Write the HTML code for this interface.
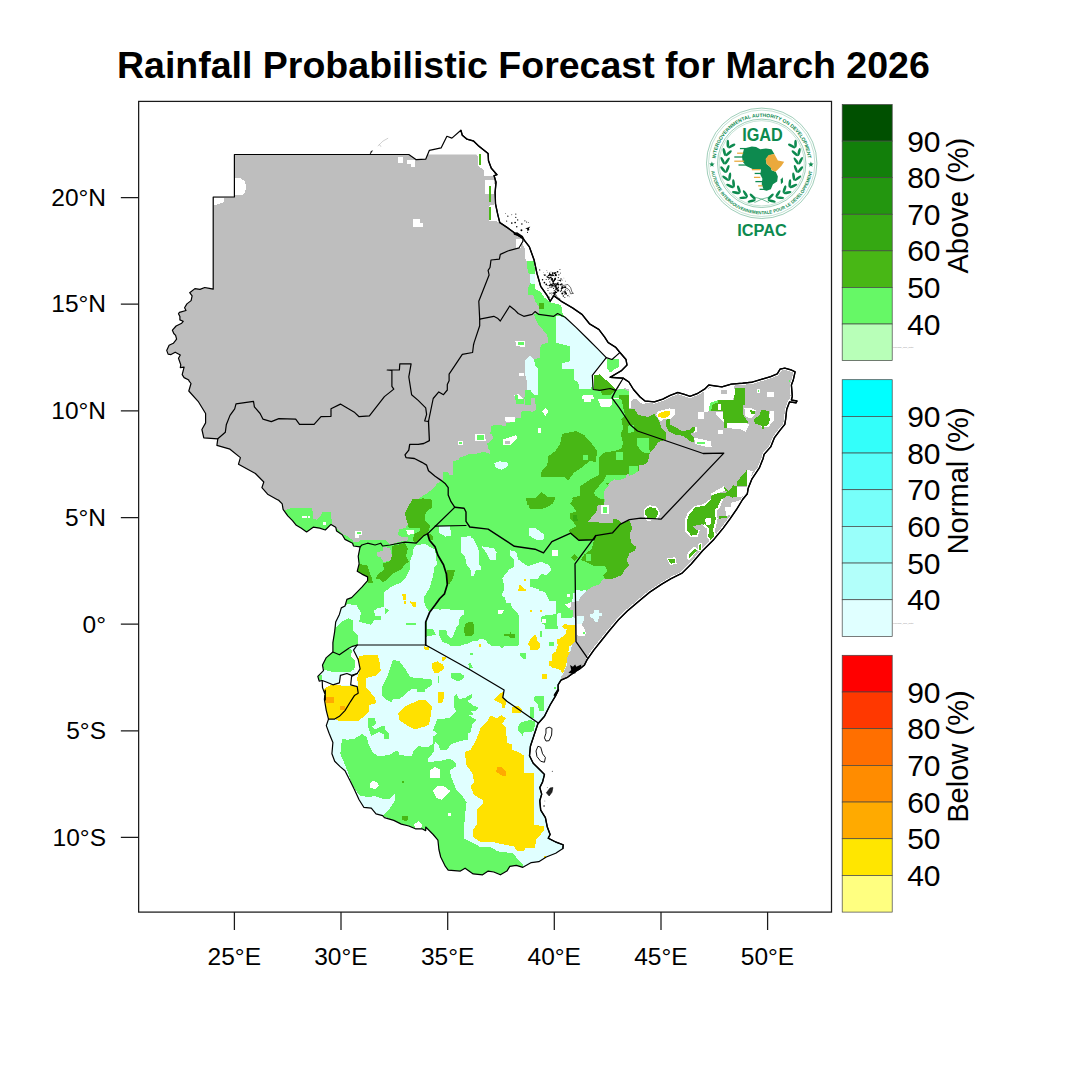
<!DOCTYPE html>
<html><head><meta charset="utf-8">
<style>
html,body{margin:0;padding:0;background:#fff;}
body{width:1066px;height:1067px;overflow:hidden;}
svg{display:block;}
text{font-family:"Liberation Sans",sans-serif;fill:#000;}
</style></head><body>
<svg id="root" width="1066" height="1067" viewBox="0 0 1066 1067">
<rect width="1066" height="1067" fill="#fff"/>
<text id="title" x="117" y="78.3" font-size="37.5" font-weight="bold">Rainfall Probabilistic Forecast for March 2026</text>
<!--MAP-->
<g id="map">
<defs><clipPath id="land"><polygon points="234.4,154.5 234.4,197.0 213.2,197.0 213.2,289.2 209.4,288.3 204.7,287.5 200.0,289.4 194.9,288.6 189.7,292.7 192.1,295.9 191.1,300.6 186.9,303.9 184.6,307.7 186.0,310.5 179.4,312.4 178.5,313.8 179.9,316.6 179.9,319.9 183.2,321.3 181.7,323.2 176.1,326.0 172.4,330.2 173.8,333.5 175.6,335.3 176.6,339.1 173.3,343.3 169.1,345.2 166.7,350.4 168.1,354.1 171.0,354.6 175.2,352.2 180.3,355.0 178.5,358.3 180.8,364.9 180.3,367.7 184.1,367.2 182.2,374.7 184.1,377.6 188.8,380.0 188.8,380.7 191.0,383.5 188.8,391.0 198.1,401.3 205.6,413.5 205.6,422.9 201.9,429.5 203.8,437.9 217.8,438.8 216.9,445.4 230.0,449.2 240.4,457.6 238.5,464.2 255.4,473.5 263.8,482.0 261.9,487.6 267.6,494.2 277.9,500.0 278.4,500.0 282.2,503.8 283.1,509.4 287.8,515.9 292.5,520.6 296.3,525.3 301.0,528.1 306.6,531.9 313.2,527.2 319.7,528.1 325.3,530.0 331.0,524.4 335.7,527.2 336.6,531.0 342.2,534.7 345.0,539.4 352.6,543.2 353.5,546.0 360.1,546.9 358.2,556.3 359.1,563.8 357.2,571.3 361.9,574.1 367.6,576.9 367.6,580.7 361.9,587.2 356.3,592.9 351.6,597.6 346.9,599.4 345.0,606.0 341.3,607.9 339.4,614.4 335.7,622.0 334.7,631.3 332.9,642.6 332.9,652.0 326.3,657.6 322.5,665.1 323.5,670.7 317.8,676.4 319.2,681.1 322.2,680.5 322.5,687.6 325.3,695.1 325.3,700.0 325.3,690.0 324.4,699.4 326.3,710.6 328.5,719.1 326.3,725.6 329.1,733.2 332.9,742.5 331.9,753.8 334.7,761.3 340.4,766.9 345.0,770.7 349.7,780.1 354.4,789.4 359.1,799.8 363.8,807.3 371.3,808.2 376.0,813.8 382.6,815.7 384.4,817.6 393.8,820.4 401.3,824.1 408.8,826.0 415.4,828.8 422.0,828.8 425.7,830.7 425.7,827.0 433.2,834.5 437.9,840.1 438.9,849.5 440.7,857.0 445.4,866.4 448.2,870.1 460.4,871.1 465.1,868.2 473.2,873.9 482.6,874.8 488.2,871.1 493.8,872.0 500.4,874.8 506.9,871.1 509.8,866.4 516.3,865.4 522.9,867.3 531.3,862.6 538.8,861.7 546.3,857.0 555.7,853.2 562.9,848.5 563.2,844.8 555.7,842.0 548.2,838.2 550.1,834.5 547.3,827.0 545.4,817.6 540.7,810.1 539.8,800.7 541.7,794.1 539.8,787.6 542.6,781.9 544.5,774.4 538.8,768.8 533.2,763.2 529.5,755.7 530.4,746.3 534.1,735.0 537.9,723.8 544.5,716.3 550.1,705.0 555.7,695.6 558.5,690.0 554.4,695.1 558.1,689.5 558.1,684.8 561.0,680.1 567.5,677.3 575.0,671.7 579.7,668.9 584.4,665.1 587.2,659.5 593.8,650.1 601.3,640.7 608.8,631.3 618.2,620.1 627.6,610.7 638.8,601.3 650.1,591.9 661.3,584.4 670.7,578.8 682.0,573.2 691.4,563.8 702.6,550.7 713.9,539.4 723.2,528.1 730.0,518.8 736.9,508.9 742.6,499.5 747.3,493.8 748.2,488.2 752.0,478.8 759.5,467.6 763.2,458.2 764.1,454.4 770.7,446.9 774.5,437.6 780.1,430.1 784.8,424.4 785.7,418.8 786.7,409.4 789.5,401.9 796.0,402.9 797.0,401.0 791.4,400.0 792.3,396.3 791.4,385.0 793.2,380.3 795.1,371.9 791.4,370.0 784.8,368.1 780.1,369.1 777.3,373.8 770.7,376.6 761.3,379.4 752.0,382.2 742.6,383.2 731.3,384.1 721.9,386.9 715.4,386.0 708.8,385.0 705.0,388.8 697.5,393.5 690.0,396.3 684.4,394.4 677.8,392.5 670.3,395.3 662.8,399.1 654.4,401.9 645.0,401.0 640.1,397.0 633.5,389.5 628.9,382.0 623.2,378.2 610.1,377.3 621.4,370.7 627.0,365.1 626.0,359.5 619.5,352.0 615.7,347.3 608.2,342.6 604.5,336.9 598.8,329.4 589.5,323.8 582.0,314.4 572.6,307.9 561.3,301.3 553.8,295.7 550.1,301.3 547.2,295.7 540.7,286.3 536.9,273.2 534.1,260.0 529.4,246.9 522.9,238.4 515.7,233.8 508.2,228.2 499.8,222.6 497.9,215.1 495.5,203.8 495.1,192.6 496.0,182.2 494.1,175.7 497.0,174.7 491.3,168.2 488.5,160.7 488.1,153.5 478.2,145.6 473.5,141.0 466.9,139.1 462.3,135.3 460.9,130.3 451.9,138.1 446.9,136.3 441.1,147.9 429.4,150.3 425.7,159.2 416.3,159.7 408.8,154.5 360.0,154.5"/></clipPath></defs>
<polygon points="234.4,154.5 234.4,197.0 213.2,197.0 213.2,289.2 209.4,288.3 204.7,287.5 200.0,289.4 194.9,288.6 189.7,292.7 192.1,295.9 191.1,300.6 186.9,303.9 184.6,307.7 186.0,310.5 179.4,312.4 178.5,313.8 179.9,316.6 179.9,319.9 183.2,321.3 181.7,323.2 176.1,326.0 172.4,330.2 173.8,333.5 175.6,335.3 176.6,339.1 173.3,343.3 169.1,345.2 166.7,350.4 168.1,354.1 171.0,354.6 175.2,352.2 180.3,355.0 178.5,358.3 180.8,364.9 180.3,367.7 184.1,367.2 182.2,374.7 184.1,377.6 188.8,380.0 188.8,380.7 191.0,383.5 188.8,391.0 198.1,401.3 205.6,413.5 205.6,422.9 201.9,429.5 203.8,437.9 217.8,438.8 216.9,445.4 230.0,449.2 240.4,457.6 238.5,464.2 255.4,473.5 263.8,482.0 261.9,487.6 267.6,494.2 277.9,500.0 278.4,500.0 282.2,503.8 283.1,509.4 287.8,515.9 292.5,520.6 296.3,525.3 301.0,528.1 306.6,531.9 313.2,527.2 319.7,528.1 325.3,530.0 331.0,524.4 335.7,527.2 336.6,531.0 342.2,534.7 345.0,539.4 352.6,543.2 353.5,546.0 360.1,546.9 358.2,556.3 359.1,563.8 357.2,571.3 361.9,574.1 367.6,576.9 367.6,580.7 361.9,587.2 356.3,592.9 351.6,597.6 346.9,599.4 345.0,606.0 341.3,607.9 339.4,614.4 335.7,622.0 334.7,631.3 332.9,642.6 332.9,652.0 326.3,657.6 322.5,665.1 323.5,670.7 317.8,676.4 319.2,681.1 322.2,680.5 322.5,687.6 325.3,695.1 325.3,700.0 325.3,690.0 324.4,699.4 326.3,710.6 328.5,719.1 326.3,725.6 329.1,733.2 332.9,742.5 331.9,753.8 334.7,761.3 340.4,766.9 345.0,770.7 349.7,780.1 354.4,789.4 359.1,799.8 363.8,807.3 371.3,808.2 376.0,813.8 382.6,815.7 384.4,817.6 393.8,820.4 401.3,824.1 408.8,826.0 415.4,828.8 422.0,828.8 425.7,830.7 425.7,827.0 433.2,834.5 437.9,840.1 438.9,849.5 440.7,857.0 445.4,866.4 448.2,870.1 460.4,871.1 465.1,868.2 473.2,873.9 482.6,874.8 488.2,871.1 493.8,872.0 500.4,874.8 506.9,871.1 509.8,866.4 516.3,865.4 522.9,867.3 531.3,862.6 538.8,861.7 546.3,857.0 555.7,853.2 562.9,848.5 563.2,844.8 555.7,842.0 548.2,838.2 550.1,834.5 547.3,827.0 545.4,817.6 540.7,810.1 539.8,800.7 541.7,794.1 539.8,787.6 542.6,781.9 544.5,774.4 538.8,768.8 533.2,763.2 529.5,755.7 530.4,746.3 534.1,735.0 537.9,723.8 544.5,716.3 550.1,705.0 555.7,695.6 558.5,690.0 554.4,695.1 558.1,689.5 558.1,684.8 561.0,680.1 567.5,677.3 575.0,671.7 579.7,668.9 584.4,665.1 587.2,659.5 593.8,650.1 601.3,640.7 608.8,631.3 618.2,620.1 627.6,610.7 638.8,601.3 650.1,591.9 661.3,584.4 670.7,578.8 682.0,573.2 691.4,563.8 702.6,550.7 713.9,539.4 723.2,528.1 730.0,518.8 736.9,508.9 742.6,499.5 747.3,493.8 748.2,488.2 752.0,478.8 759.5,467.6 763.2,458.2 764.1,454.4 770.7,446.9 774.5,437.6 780.1,430.1 784.8,424.4 785.7,418.8 786.7,409.4 789.5,401.9 796.0,402.9 797.0,401.0 791.4,400.0 792.3,396.3 791.4,385.0 793.2,380.3 795.1,371.9 791.4,370.0 784.8,368.1 780.1,369.1 777.3,373.8 770.7,376.6 761.3,379.4 752.0,382.2 742.6,383.2 731.3,384.1 721.9,386.9 715.4,386.0 708.8,385.0 705.0,388.8 697.5,393.5 690.0,396.3 684.4,394.4 677.8,392.5 670.3,395.3 662.8,399.1 654.4,401.9 645.0,401.0 640.1,397.0 633.5,389.5 628.9,382.0 623.2,378.2 610.1,377.3 621.4,370.7 627.0,365.1 626.0,359.5 619.5,352.0 615.7,347.3 608.2,342.6 604.5,336.9 598.8,329.4 589.5,323.8 582.0,314.4 572.6,307.9 561.3,301.3 553.8,295.7 550.1,301.3 547.2,295.7 540.7,286.3 536.9,273.2 534.1,260.0 529.4,246.9 522.9,238.4 515.7,233.8 508.2,228.2 499.8,222.6 497.9,215.1 495.5,203.8 495.1,192.6 496.0,182.2 494.1,175.7 497.0,174.7 491.3,168.2 488.5,160.7 476.0,154.5 427.5,154.5 425.7,159.2 416.3,159.7 408.8,154.5" fill="#bebebe"/>
<g clip-path="url(#land)" shape-rendering="crispEdges">
<g transform="translate(460 230) scale(0.187617)">
<polygon fill="#66f866" points="355,165 355,190 365,230 375,235 372,290 360,315 360,345 390,345 400,380 420,410 420,440 395,450 400,470 415,500 440,530 465,560 470,600 430,612 425,680 400,690 350,690 345,720 375,730 375,770 355,790 355,860 340,900 350,930 395,930 400,975 330,975 325,1000 280,1010 240,1040 180,1040 165,1076 1076,1076 1076,985 1010,990 950,995 930,960 915,900 900,860 870,845 830,855 800,845 745,855 710,850 705,775 780,680 730,630 680,580 620,520 560,465 545,440 540,400 480,385 450,360 430,330 400,315 400,235 395,165"/>
<polygon fill="#e0ffff" points="510,455 560,465 620,520 680,580 730,630 780,680 705,775 700,850 635,850 630,810 610,800 610,740 545,740 545,710 585,700 585,620 510,600"/>
<polygon fill="#e0ffff" points="375,670 395,690 400,720 415,735 415,880 395,880 380,860 355,860 355,790 375,770 375,730 345,720 350,690"/>
<polygon fill="#e0ffff" points="375,235 400,235 400,290 375,285"/>
<polygon fill="#ffffff" points="325,55 340,45 370,90 395,160 410,230 430,300 465,350 500,350 540,380 600,415 650,450 690,500 740,530 770,570 790,600 830,625 850,650 810,690 780,680 730,630 680,580 620,520 560,465 545,440 540,400 480,385 450,360 430,330 400,315 400,235 395,165 350,165 345,100"/>
<polygon fill="#ffffff" points="780,680 810,690 850,655 885,690 890,720 860,750 800,785 870,790 830,855 800,845 745,855 710,850 705,775"/>
<polygon fill="#66f866" points="785,690 845,690 845,730 820,745 800,760 785,740"/>
<polygon fill="#48b715" points="715,775 745,770 790,810 830,850 800,880 760,880 750,860 715,850"/>
<polygon fill="#48b715" points="850,880 905,880 910,950 930,985 1010,1000 1076,990 1076,1076 940,1076 870,1050 860,1000 885,960 850,910"/>
<polygon fill="#48b715" points="420,390 450,390 450,420 420,420"/>
<polygon fill="#ffffff" points="440,965 458,945 475,965 458,990"/>
<polygon fill="#ffffff" points="655,880 710,880 715,905 660,915 650,895"/>
<polygon fill="#ffffff" points="730,905 800,900 810,940 750,940"/>
<polygon fill="#ffffff" points="240,1000 290,995 290,1010 260,1040 240,1040"/>
<polygon fill="#ffffff" points="295,590 345,590 345,620 300,620"/>
<polygon fill="#66f866" points="310,598 340,598 340,612 310,612"/>
<polygon fill="#ffffff" points="290,880 310,875 335,895 335,925 300,925"/>
<polygon fill="#66f866" points="305,900 330,900 330,920 305,920"/>
<polygon fill="#66f866" points="320,762 340,762 340,775 320,775"/>
<polygon fill="#ffffff" points="870,793 900,814 922,850 952,886 994,916 976,928 934,898 913,910 913,946 904,946 904,850 880,844 840,850"/>
<polygon fill="#ffffff" points="817,898 847,898 862,922 862,970 844,952 820,922"/>
</g>
<g transform="translate(460 400) scale(0.187617)">
<polygon fill="#66f866" points="-5,-5 1071,-5 1071,1071 -5,1071"/>
<polygon fill="#bebebe" points="-12,-12 300,-12 300,20 340,22 345,-12 400,-12 405,55 385,62 330,65 330,95 285,100 285,120 245,125 240,150 170,150 160,180 185,185 180,215 145,230 150,260 165,275 150,300 130,285 45,290 -12,312"/>
<polygon fill="#ffffff" points="240,90 285,90 285,110 240,112"/>
<polygon fill="#ffffff" points="310,150 330,150 330,165 310,165"/>
<polygon fill="#ffffff" points="350,150 370,150 370,165 350,165"/>
<polygon fill="#ffffff" points="415,150 430,150 430,175 415,175"/>
<polygon fill="#ffffff" points="455,42 472,62 455,85 438,62"/>
<polygon fill="#ffffff" points="230,215 265,215 265,245 230,245"/>
<polygon fill="#bebebe" points="240,222 258,222 258,240 240,240"/>
<polygon fill="#ffffff" points="272,195 290,185 302,200 285,215"/>
<polygon fill="#ffffff" points="200,258 215,258 215,280 200,280"/>
<polygon fill="#ffffff" points="85,190 110,180 135,192 135,215 85,215"/>
<polygon fill="#66f866" points="95,193 128,193 128,213 95,213"/>
<polygon fill="#ffffff" points="307,154 327,154 327,163 307,163"/>
<polygon fill="#ffffff" points="352,154 373,154 373,163 352,163"/>
<polygon fill="#ffffff" points="201,259 211,259 211,279 201,279"/>
<polygon fill="#bebebe" points="910,-5 915,40 940,75 1000,90 1071,60 1071,-5"/>
<polygon fill="#ffffff" points="980,-5 1071,-5 1071,10 1000,12"/>
<polygon fill="#ffffff" points="735,-5 810,-5 810,25 790,40 750,35"/>
<polygon fill="#ffffff" points="660,-5 700,-5 700,10 660,10"/>
<polygon fill="#ffffff" points="930,40 950,40 950,75 935,70"/>
<polygon fill="#bebebe" points="1071,228 1010,250 1000,300 990,330 950,350 940,380 880,400 820,420 790,450 770,470 765,540 770,560 740,565 740,590 700,610 680,650 800,660 830,640 850,670 890,645 960,632 1071,632"/>
<polygon fill="#ffffff" points="725,565 745,565 745,592 725,592"/>
<polygon fill="#ffffff" points="755,565 790,565 790,605 755,605"/>
<polygon fill="#66f866" points="765,575 785,575 785,595 765,595"/>
<polygon fill="#bebebe" points="915,665 905,700 915,760 935,790 900,820 890,880 860,940 820,950 780,960 750,985 680,1020 655,1071 1071,1071 1071,640 960,640"/>
<polygon fill="#ffffff" points="960,1071 1071,975 1071,1071"/>
<polygon fill="#48b715" points="860,-5 905,-5 915,40 940,75 1000,90 1071,62 1071,230 1010,250 1000,300 990,330 950,350 940,380 880,400 820,420 790,450 770,470 765,540 740,560 700,600 680,650 800,660 830,640 850,670 830,700 740,720 710,745 630,745 590,710 580,690 620,670 625,640 640,620 590,560 600,520 640,510 640,460 700,420 740,400 740,310 770,280 830,270 860,260 870,230 855,180 870,150 860,100 880,80 870,40"/>
<polygon fill="#66f866" points="939,207 966,201 1002,207 1008,228 990,246 996,264 1008,276 957,279 954,228"/>
<polygon fill="#66f866" points="906,348 954,345 954,384 924,390 900,390 900,384"/>
<polygon fill="#66f866" points="780,399 888,399 882,414 852,427 822,423 800,440 775,440 765,430"/>
<polygon fill="#66f866" points="762,432 792,456 771,480 765,540 762,534 720,510 714,492"/>
<polygon fill="#66f866" points="830,275 870,275 870,320 830,320"/>
<polygon fill="#66f866" points="895,140 925,140 925,175 895,175"/>
<polygon fill="#66f866" points="590,620 605,605 625,625 608,645"/>
<polygon fill="#48b715" points="545,180 620,165 660,185 700,230 730,270 725,330 690,325 650,360 610,385 575,430 555,410 430,410 435,380 465,350 470,300 510,270 535,230"/>
<polygon fill="#66f866" points="655,295 680,295 680,320 655,320"/>
<polygon fill="#48b715" points="435,490 465,515 505,515 510,540 495,560 470,565 460,600 440,585 385,585 355,530 405,520"/>
<polygon fill="#48b715" points="710,745 740,720 830,700 850,670 890,650 915,665 905,700 915,760 935,790 900,820 890,880 860,940 820,950 780,940 780,890 740,885 690,890 670,860 700,830 665,800 670,750"/>
<polygon fill="#66f866" points="672,822 698,822 698,858 672,858"/>
<polygon fill="#48b715" points="590,840 605,825 620,840 605,858"/>
<polygon fill="#ffffff" points="975,590 1000,565 1035,565 1060,590 1060,625 1035,640 990,638 975,615"/>
<polygon fill="#48b715" points="990,582 1020,572 1050,592 1050,620 1030,632 995,630 985,602"/>
<polygon fill="#e0ffff" points="185,330 240,325 255,350 240,365 210,375 190,350"/>
<polygon fill="#e0ffff" points="355,685 395,675 410,700 445,715 445,745 415,745 380,715"/>
<polygon fill="#e0ffff" points="10,760 40,730 70,735 100,800 100,880 115,885 110,905 80,910 75,940 60,940 55,900 25,860 10,800"/>
<polygon fill="#e0ffff" points="115,780 180,790 195,810 190,855 160,850 140,815"/>
<polygon fill="#e0ffff" points="265,800 300,810 310,850 350,880 415,895 430,865 480,880 470,930 420,950 380,970 385,1000 460,1010 460,1071 230,1071 235,990 225,950 265,900 290,890 290,850 265,830"/>
<polygon fill="#e0ffff" points="620,1010 660,1020 640,1060 620,1071"/>
<polygon fill="#ffffff" points="490,805 520,805 520,835 490,835"/>
<polygon fill="#ffe100" points="305,1018 325,985 345,1018"/>
<polygon fill="#ffe100" points="340,953 350,953 350,963 340,963"/>
</g>
<g transform="translate(330 330) scale(0.187617)">
<polygon fill="#66f866" points="1071,430 1020,435 1020,470 990,475 985,490 940,495 940,515 900,505 860,510 860,545 870,575 850,600 840,620 855,640 850,660 820,650 750,665 695,690 655,700 655,770 635,775 630,755 600,760 600,800 570,820 545,850 516,871 465,903 411,936 392,968 405,1010 400,1071 1071,1071"/>
<polygon fill="#66f866" points="1040,320 1071,320 1071,400 1040,400"/>
<polygon fill="#66f866" points="985,345 1000,345 1000,375 985,375"/>
<polygon fill="#66f866" points="1000,370 1025,370 1025,395 1000,395"/>
<polygon fill="#e0ffff" points="1040,165 1071,140 1071,320 1045,260 1040,230"/>
<polygon fill="#ffffff" points="995,58 1040,58 1040,90 1000,87"/>
<polygon fill="#66f866" points="1002,66 1034,66 1034,80 1002,80"/>
<polygon fill="#ffffff" points="1005,230 1035,230 1035,245 1005,245"/>
<polygon fill="#ffffff" points="935,465 985,465 985,490 940,490"/>
<polygon fill="#ffffff" points="920,585 990,560 1000,575 960,615 925,615"/>
<polygon fill="#bebebe" points="935,592 958,592 958,610 935,610"/>
<polygon fill="#ffffff" points="775,555 825,555 830,590 775,590"/>
<polygon fill="#66f866" points="785,562 820,562 823,585 782,585"/>
<polygon fill="#ffffff" points="683,590 707,590 707,614 683,614"/>
<polygon fill="#66f866" points="688,595 702,595 702,609 688,609"/>
<polygon fill="#e0ffff" points="875,710 905,700 945,705 950,725 915,745 885,735"/>
<polygon fill="#48b715" points="395,975 411,940 465,905 496,896 539,911 541,966 501,976 501,1016 531,1041 531,1076 400,1076 405,1010"/>
<polygon fill="#48b715" points="1045,895 1071,895 1071,940 1050,930"/>
<polygon fill="#66f866" points="-5,960 10,960 10,1035 -5,1035"/>
<polygon fill="#ffffff" points="-5,1035 40,1045 40,1071 -5,1071"/>
<polygon fill="#e0ffff" points="575,1050 640,1050 640,1071 575,1071"/>
</g>
<g transform="translate(630 340) scale(0.187617)">
<polygon fill="#bebebe" points="-5,-5 1071,-5 1071,1071 -5,1071"/>
<polygon fill="#ffffff" points="-5,235 30,285 80,325 90,332 70,344 28,312 6,324 6,360 -5,360"/>
<polygon fill="#ffffff" points="395,270 440,250 555,238 560,300 545,320 430,330 420,380 395,385 395,330"/>
<polygon fill="#bebebe" points="485,265 515,265 515,290 485,290"/>
<polygon fill="#ffffff" points="515,440 615,440 635,450 615,490 590,475 515,470"/>
<polygon fill="#ffffff" points="460,385 500,385 500,440 480,420 460,400"/>
<polygon fill="#ffffff" points="360,385 395,385 395,420 360,420"/>
<polygon fill="#ffffff" points="470,480 495,480 495,503 470,503"/>
<polygon fill="#ffffff" points="745,380 765,380 765,430 745,455 740,465 700,465 700,440 740,430"/>
<polygon fill="#ffffff" points="730,275 765,275 765,305 730,305"/>
<polygon fill="#ffffff" points="675,262 695,262 695,285 675,285"/>
<polygon fill="#66f866" points="681,268 690,268 690,278 681,278"/>
<polygon fill="#ffffff" points="140,395 150,380 210,365 240,370 240,395 215,420 180,420 165,435 150,420"/>
<polygon fill="#ffffff" points="345,460 360,470 355,490 340,495"/>
<polygon fill="#ffffff" points="340,520 430,540 435,570 400,568 350,555"/>
<polygon fill="#66f866" points="355,545 400,545 400,553 355,553"/>
<polygon fill="#ffffff" points="610,365 640,360 670,375 665,400 640,420 615,405"/>
<polygon fill="#48b715" points="560,258 615,258 615,345 600,345 605,400 625,430 635,445 620,445 615,440 515,440 515,470 500,470 500,440 495,380 420,380 425,340 470,320 555,320"/>
<polygon fill="#66f866" points="425,335 470,320 470,332 440,345 432,375 422,378"/>
<polygon fill="#ffffff" points="468,340 485,340 485,372 468,372"/>
<polygon fill="#48b715" points="705,372 740,378 745,430 735,455 715,460 710,485 700,455 665,445 660,425 690,400 700,372"/>
<polygon fill="#48b715" points="640,372 665,380 668,395 645,395"/>
<polygon fill="#48b715" points="190,425 215,420 215,450 245,465 275,485 320,480 335,460 345,465 345,485 325,500 340,520 340,545 320,540 295,520 280,510 240,505 205,485 190,455"/>
<polygon fill="#ffe100" points="150,395 165,385 210,375 215,395 200,410 185,415 150,412"/>
<polygon fill="#48b715" points="-5,365 25,370 45,400 95,410 130,395 150,420 160,440 165,465 190,490 195,530 150,545 130,575 105,600 95,650 75,665 50,665 45,700 20,715 -5,725"/>
<polygon fill="#66f866" points="35,520 100,520 105,600 75,600 60,590 35,560"/>
<polygon fill="#66f866" points="-5,670 45,670 45,700 20,715 -5,725"/>
<polygon fill="#66f866" points="-5,450 20,455 20,490 -5,495"/>
<polygon fill="#ffffff" points="72,900 90,885 120,882 150,900 158,930 155,960 72,960"/>
<polygon fill="#48b715" points="85,900 110,890 135,900 150,920 150,950 85,950 80,920"/>
<polygon fill="#48b715" points="-5,985 12,985 12,1010 -5,1010"/>
<polygon fill="#ffffff" points="625,690 655,700 640,740 625,780"/>
<polygon fill="#ffffff" points="570,785 625,785 615,830 570,840"/>
<polygon fill="#ffffff" points="430,820 500,780 520,800 470,815 435,830"/>
<polygon fill="#ffffff" points="450,890 500,880 600,850 570,900 530,950 510,990 470,1040 445,1071 430,1071 455,985 440,960 445,930"/>
<polygon fill="#bebebe" points="455,892 515,885 500,930 460,935"/>
<polygon fill="#ffffff" points="290,985 300,960 315,925 355,885 420,875 435,830 440,850 420,885 360,895 320,935 305,990 305,1020 320,1050 290,1030"/>
<polygon fill="#48b715" points="625,690 625,780 570,780 570,755 600,720"/>
<polygon fill="#48b715" points="570,780 570,835 545,840 520,830 490,850 475,870 445,880 440,920 420,945 390,950 390,1005 345,1000 335,1005 355,1020 345,1045 315,1045 300,1020 300,990 315,930 355,890 420,880 435,830 470,815 510,815 540,790 550,775"/>
<polygon fill="#48b715" points="420,985 455,985 450,1040 430,1071 420,1071"/>
<polygon fill="#ffffff" points="395,960 415,960 415,1000 395,1000"/>
<polygon fill="#48b715" points="498,782 512,790 525,805 512,808"/>
<polygon fill="#66f866" points="845,212 853,212 853,225 845,225"/>
</g>
<g transform="translate(530 500) scale(0.187617)">
<polygon fill="#66f866" points="-5,-5 1071,-5 1071,1071 -5,1071"/>
<polygon fill="#bebebe" points="400,-5 395,25 360,30 355,60 330,90 310,115 370,120 440,125 440,100 470,105 490,125 530,110 545,150 530,180 540,230 565,250 560,270 530,285 515,320 530,350 505,370 490,400 440,420 400,425 340,460 300,490 295,510 260,525 240,525 240,755 205,830 195,900 170,940 150,960 150,1071 1071,1071 1071,-5"/>
<polygon fill="#48b715" points="-5,-5 135,-5 120,20 95,35 60,50 -5,45"/>
<polygon fill="#48b715" points="230,-5 395,-5 395,25 360,30 355,60 330,90 310,115 370,120 440,125 440,100 470,105 490,125 530,110 545,150 530,180 540,230 565,250 560,270 530,285 515,320 530,350 505,370 490,400 440,420 400,425 390,400 410,380 405,355 340,350 300,330 270,320 290,290 330,260 340,215 260,215 215,180 205,160 250,140 215,100 215,70 250,60 215,20"/>
<polygon fill="#35a812" points="230,80 250,80 255,110 230,110"/>
<polygon fill="#66f866" points="300,290 325,290 325,325 300,325"/>
<polygon fill="#48b715" points="235,288 255,305 235,325 218,305"/>
<polygon fill="#ffffff" points="378,28 422,28 422,77 378,77"/>
<polygon fill="#66f866" points="387,37 413,37 413,68 387,68"/>
<polygon fill="#ffffff" points="605,50 635,28 675,35 695,70 678,108 625,110 605,85"/>
<polygon fill="#48b715" points="615,52 640,37 670,45 685,70 670,100 630,100 615,80"/>
<polygon fill="#ffffff" points="840,70 875,32 925,22 960,-5 1030,-5 1010,45 995,55 1000,100 985,165 995,200 965,225 942,200 945,155 928,140 905,158 895,195 855,198 825,165 825,108"/>
<polygon fill="#48b715" points="850,75 880,40 930,30 965,-5 1020,-5 1000,40 985,50 990,100 975,160 985,195 965,215 950,195 955,150 930,130 900,150 890,185 860,190 835,160 835,110"/>
<polygon fill="#bebebe" points="870,140 920,128 930,150 890,162"/>
<polygon fill="#ffffff" points="930,100 965,95 965,130 940,135"/>
<polygon fill="#48b715" points="1010,88 1050,82 1050,95 1010,100"/>
<polygon fill="#ffffff" points="1040,35 1071,35 1071,80 1045,85"/>
<polygon fill="#ffffff" points="835,290 875,248 895,262 865,305 850,320 835,312"/>
<polygon fill="#48b715" points="845,292 880,257 890,267 860,300 850,310"/>
<polygon fill="#ffffff" points="893,235 915,228 915,268 893,275"/>
<polygon fill="#48b715" points="900,240 910,236 910,264 900,268"/>
<polygon fill="#ffffff" points="727,310 775,305 782,340 748,347"/>
<polygon fill="#48b715" points="735,316 770,313 774,335 750,340"/>
<polygon fill="#e0ffff" points="-5,150 30,150 75,185 75,210 40,215 -5,190"/>
<polygon fill="#e0ffff" points="-5,350 60,330 100,345 115,375 90,400 60,395 40,420 -5,440"/>
<polygon fill="#ffffff" points="118,268 150,268 150,300 118,300"/>
<polygon fill="#e0ffff" points="-5,480 60,470 95,500 100,535 150,545 185,580 190,1071 -5,1071"/>
<polygon fill="#e0ffff" points="250,480 300,480 290,515 250,525"/>
</g>
<g transform="translate(520 580) scale(0.112570)">
<polygon fill="#e0ffff" points="-5,-5 492,-5 492,1071 -5,1071"/>
<polygon fill="#66f866" points="90,-5 490,-5 490,110 470,120 465,195 440,200 440,260 470,270 470,330 440,342 340,342 335,440 225,440 215,400 185,340 215,310 320,305 340,275 335,190 255,185 235,160 230,105 150,80 125,70 90,60"/>
<polygon fill="#ffffff" points="415,125 445,125 445,155 415,155"/>
<polygon fill="#ffffff" points="400,215 450,205 450,250 425,245"/>
<polygon fill="#ffffff" points="200,345 235,345 235,385 200,385"/>
<polygon fill="#66f866" points="492,-5 740,-5 700,40 640,60 600,90 570,85 545,100 520,85 492,85"/>
<polygon fill="#e0ffff" points="492,85 520,85 545,100 570,120 540,150 520,185 492,190"/>
<polygon fill="#bebebe" points="492,190 520,185 540,150 570,120 600,90 640,60 700,40 740,-5 1071,-5 1071,1071 280,1071 340,900 365,860 385,830 400,790 420,750 420,690 450,630 460,580 490,545 492,545"/>
<polygon fill="#bebebe" points="455,200 492,195 492,335 470,330 470,270 445,262"/>
<polygon fill="#e0ffff" points="505,320 565,320 570,350 550,395 505,395"/>
<polygon fill="#ffffff" points="505,395 550,395 575,440 585,475 570,500 520,500 505,480"/>
<polygon fill="#66f866" points="560,460 578,460 578,480 560,480"/>
<polygon fill="#e0ffff" points="660,265 700,265 700,290 725,290 725,320 700,325 695,370 665,370 650,340 625,330 625,305 655,295"/>
<polygon fill="#ffe100" points="375,410 410,385 420,400 487,400 487,545 460,580 440,585 430,640 445,640 420,690 410,760 390,800 385,825 360,820 340,790 300,780 260,760 255,725 285,710 285,650 320,630 340,600 320,555 350,520 400,490 415,440 390,430"/>
<polygon fill="#ffe100" points="130,480 140,500 165,540 180,570 175,610 150,625 95,625 90,590 70,575 95,520"/>
<polygon fill="#ffe100" points="200,840 238,840 238,878 200,878"/>
<polygon fill="#ffe100" points="-5,45 15,50 50,90 50,100 -5,100"/>
<polygon fill="#ffe100" points="88,265 106,265 106,285 88,285"/>
<polygon fill="#ffe100" points="180,265 198,265 198,285 180,285"/>
<polygon fill="#ffe100" points="35,-5 50,-5 50,10 35,10"/>
<polygon fill="#66f866" points="258,555 300,555 300,590 258,590"/>
<polygon fill="#66f866" points="-5,650 50,650 50,700 -5,690"/>
<polygon fill="#66f866" points="130,1030 215,1030 215,1071 130,1071"/>
<polygon fill="#66f866" points="180,445 198,445 198,515 180,515"/>
<polygon fill="#66f866" points="300,950 318,950 318,970 300,970"/>
</g>
<g transform="translate(270 500) scale(0.187617)">
<polygon fill="#66f866" points="-5,-5 1071,-5 1071,773 -5,773"/>
<polygon fill="#e0ffff" points="-5,773 1071,773 1071,1071 -5,1071"/>
<polygon fill="#bebebe" points="40,-5 65,20 75,57 120,40 225,40 230,100 250,105 270,85 280,62 325,62 330,128 355,150 385,182 410,190 440,215 445,225 475,225 480,215 620,215 640,240 680,225 735,215 735,200 700,195 680,185 690,155 720,150 735,130 725,100 720,70 740,30 760,-5"/>
<polygon fill="#ffffff" points="170,85 195,85 195,98 170,98"/>
<polygon fill="#ffffff" points="200,85 215,85 215,98 200,98"/>
<polygon fill="#ffffff" points="285,118 298,118 298,132 285,132"/>
<polygon fill="#ffffff" points="455,163 490,163 490,187 472,187 472,202 455,202"/>
<polygon fill="#66f866" points="465,170 485,170 485,182 465,182"/>
<polygon fill="#bebebe" points="570,280 600,270 600,250 640,255 650,300 640,325 605,330 590,305 570,300"/>
<polygon fill="#ffffff" points="625,345 638,345 638,358 625,358"/>
<polygon fill="#48b715" points="760,-5 860,-5 865,40 830,65 825,110 855,135 840,180 820,190 780,230 760,215 770,180 800,165 800,150 740,150 735,130 725,100 720,70 740,30"/>
<polygon fill="#66f866" points="690,155 720,150 740,150 770,165 765,185 735,200 700,195 680,185"/>
<polygon fill="#ffffff" points="725,158 765,158 765,182 735,185"/>
<polygon fill="#48b715" points="650,245 720,230 735,260 725,300 740,330 720,340 700,370 650,395 630,420 600,440 585,420 565,420 570,400 610,370 600,340 640,325 650,300"/>
<polygon fill="#48b715" points="475,340 520,350 530,380 540,410 550,440 525,445 520,410 490,395 465,380"/>
<polygon fill="#48b715" points="840,180 865,185 870,215 850,215"/>
<polygon fill="#48b715" points="945,375 985,375 975,420 955,450 945,450 940,395"/>
<polygon fill="#48b715" points="1040,680 1071,650 1071,720 1040,715"/>
<polygon fill="#e0ffff" points="380,575 415,555 460,560 485,600 475,650 440,640 420,630 380,650 355,680 350,650 370,610"/>
<polygon fill="#e0ffff" points="780,240 830,235 850,250 880,265 890,345 875,360 870,400 850,470 820,520 825,560 850,600 830,650 830,773 465,773 470,720 445,700 440,640 475,650 540,665 555,640 590,640 590,620 560,620 555,590 575,575 610,570 610,490 650,460 700,440 720,420 745,370 745,330 760,290 765,260"/>
<polygon fill="#66f866" points="615,575 635,590 615,610"/>
<polygon fill="#66f866" points="725,655 780,655 780,668 725,668"/>
<polygon fill="#ffe100" points="703,500 725,500 725,535 710,530"/>
<polygon fill="#ffe100" points="745,540 780,545 775,575 760,565"/>
<polygon fill="#ffe100" points="715,540 727,540 727,553 715,553"/>
<polygon fill="#e0ffff" points="1020,200 1071,190 1071,375 1045,340 1040,300 1020,280"/>
<polygon fill="#e0ffff" points="900,140 960,140 965,190 935,195 900,175"/>
<polygon fill="#e0ffff" points="835,600 870,580 1010,580 1035,590 1030,620 1000,670 975,715 960,740 940,690 900,700 920,740 960,780 1071,780 1071,905 830,773 835,725 885,720 870,690 835,690"/>
<polygon fill="#66f866" points="655,850 690,860 720,900 750,945 800,950 860,955 865,985 830,1010 760,1020 720,1071 600,1071 595,1000 625,940 645,880"/>
<polygon fill="#66f866" points="965,925 1020,920 1035,945 1015,965 975,965"/>
<polygon fill="#ffe100" points="475,830 575,825 585,870 590,910 565,935 510,950 510,1000 530,1020 560,1071 470,1071 470,1000 465,950 480,900 470,850"/>
<polygon fill="#66f866" points="335,755 470,755 465,773 440,780 420,790 370,825 335,810"/>
<polygon fill="#66f866" points="300,840 335,810 370,825 420,790 440,800 430,830 455,860 450,900 430,915 330,915 290,905 280,880"/>
<polygon fill="#ffffff" points="430,830 445,800 470,850 480,900 465,925 450,900 455,860"/>
<polygon fill="#66f866" points="256,933 276,933 276,957 256,957"/>
<polygon fill="#ffffff" points="278,962 300,970 335,985 370,975 375,935 410,925 435,935 465,925 465,995 430,985 330,985 295,1000 280,1000"/>
<polygon fill="#ffe100" points="295,1000 330,985 465,995 470,1030 445,1071 295,1071"/>
<polygon fill="#ffaa00" points="290,1045 330,1045 340,1071 290,1071"/>
<polygon fill="#ffe100" points="820,780 850,785 850,800 825,800"/>
<polygon fill="#ffe100" points="865,870 895,860 925,880 915,915 880,925 865,900"/>
<polygon fill="#ffe100" points="920,840 940,835 930,860"/>
<polygon fill="#ffe100" points="895,1020 930,1020 925,1071 900,1071"/>
<polygon fill="#66f866" points="895,940 905,940 905,975 895,975"/>
<polygon fill="#66f866" points="980,1040 1000,1030 1000,1071 980,1071"/>
<polygon fill="#66f866" points="1050,1040 1071,1040 1071,1071 1050,1071"/>
</g>
<g transform="translate(440 590) scale(0.112570)">
<polygon fill="#e0ffff" points="-5,-5 1071,-5 1071,1071 -5,1071"/>
<polygon fill="#66f866" points="-5,-5 570,-5 555,30 555,55 580,70 585,110 630,120 640,160 690,205 705,240 705,480 680,500 570,500 550,520 530,500 460,495 420,470 415,450 380,435 350,435 340,450 290,455 250,475 185,490 180,500 100,500 75,480 20,460 -5,410 -5,355 55,355 65,400 90,425 110,425 125,385 150,320 170,310 175,240 215,215 210,180 95,180 85,165 -5,175"/>
<polygon fill="#ffffff" points="515,180 565,180 560,200 545,215 515,215"/>
<polygon fill="#48b715" points="220,310 250,285 290,285 305,310 305,380 285,405 220,410 215,350"/>
<polygon fill="#48b715" points="570,395 620,390 625,375 635,390 665,395 665,425 620,425 610,410 570,410"/>
<polygon fill="#66f866" points="880,-5 1071,-5 1071,200 1040,215 1045,350 935,350 930,310 905,300 895,240 935,225 1030,215 1035,100 975,100 945,40 930,15 880,10"/>
<polygon fill="#ffffff" points="910,255 945,255 945,295 910,295"/>
<polygon fill="#66f866" points="890,360 905,360 905,420 890,420"/>
<polygon fill="#66f866" points="965,465 1010,465 1010,500 965,500"/>
<polygon fill="#66f866" points="710,560 760,560 760,610 735,610 710,580"/>
<polygon fill="#66f866" points="270,558 290,558 290,578 270,578"/>
<polygon fill="#66f866" points="250,655 270,650 290,690 260,700"/>
<polygon fill="#66f866" points="100,740 180,735 210,760 210,785 180,805 140,805 100,780"/>
<polygon fill="#66f866" points="120,925 150,920 155,965 230,985 245,945 290,925 290,950 265,975 280,1000 340,1040 340,1071 150,1071 120,985"/>
<polygon fill="#66f866" points="840,945 925,940 930,1071 880,1071 860,1000 840,975"/>
<polygon fill="#66f866" points="800,1030 830,1030 830,1071 800,1071"/>
<polygon fill="#66f866" points="1015,865 1030,865 1030,885 1015,885"/>
<polygon fill="#ffe100" points="845,390 860,420 865,455 890,475 885,510 860,535 800,535 795,500 780,480 810,430"/>
<polygon fill="#ffe100" points="1040,435 1071,430 1071,715 1040,700 1000,690 970,670 970,635 995,625 995,570 1030,545 1045,490"/>
<polygon fill="#ffe100" points="690,-5 760,-5 760,12 690,12"/>
<polygon fill="#ffe100" points="800,178 818,178 818,198 800,198"/>
<polygon fill="#ffe100" points="890,178 908,178 908,198 890,198"/>
<polygon fill="#ffe100" points="345,483 363,483 363,503 345,503"/>
<polygon fill="#ffe100" points="20,595 55,600 35,635 20,625"/>
<polygon fill="#ffe100" points="-5,650 20,655 40,690 10,720 -5,725"/>
<polygon fill="#ffe100" points="910,750 948,750 948,790 910,790"/>
<polygon fill="#ffe100" points="-5,900 40,900 40,950 20,975 20,1005 -5,1010"/>
<polygon fill="#ffe100" points="480,980 555,900 575,905 580,940 555,960 550,1005 520,1005"/>
<polygon fill="#ffe100" points="550,1015 580,1020 585,1050 555,1050"/>
<polygon fill="#ffe100" points="635,1035 700,1025 730,1071 630,1071"/>
</g>
<g transform="translate(270 690) scale(0.187617)">
<polygon fill="#e0ffff" points="-5,-5 1071,-5 1071,1071 -5,1071"/>
<polygon fill="#ffe100" points="290,-5 520,-5 560,40 565,70 530,80 525,120 490,150 470,165 365,165 345,155 312,155 300,110 290,50"/>
<polygon fill="#ffaa00" points="300,35 340,35 340,70 300,70"/>
<polygon fill="#ffaa00" points="375,85 400,85 400,105 375,105"/>
<polygon fill="#ffe100" points="735,75 800,55 835,55 860,85 860,120 850,185 830,195 770,210 735,190 705,160 680,130 710,95"/>
<polygon fill="#ffe100" points="900,10 930,10 930,40 920,70 900,70"/>
<polygon fill="#ffe100" points="1040,320 1071,310 1071,430 1050,420 1050,350"/>
<polygon fill="#66f866" points="600,-5 750,-5 720,30 700,45 655,50 650,65 625,55 595,30"/>
<polygon fill="#66f866" points="525,150 560,150 565,180 545,195 560,210 590,195 610,190 615,215 635,235 635,262 610,262 605,235 580,225 540,245 530,215 520,195"/>
<polygon fill="#66f866" points="985,20 1000,30 1000,60 1071,60 1071,135 1020,130 985,120 985,60 975,45"/>
<polygon fill="#66f866" points="385,260 410,265 450,260 490,235 515,250 525,285 545,330 580,355 640,345 670,325 690,330 710,355 760,340 775,310 840,300 850,280 870,280 875,260 865,235 880,200 890,150 960,145 1000,120 1071,135 1071,215 1050,240 1060,265 1000,270 960,310 915,315 905,280 885,275 880,330 845,365 845,385 930,375 960,365 990,385 990,410 960,430 970,470 1000,530 1040,580 1060,620 1040,680 1040,780 1071,800 1071,1071 900,1071 880,900 860,800 830,740 700,715 600,670 640,630 665,590 665,555 640,580 600,580 560,565 530,570 480,565 440,510 420,450 400,400 375,340 380,290"/>
<polygon fill="#ffffff" points="545,485 570,490 580,510 560,530 535,520 530,500"/>
<polygon fill="#ffffff" points="855,430 880,410 905,430 905,475 855,470"/>
<polygon fill="#ffffff" points="870,530 900,510 930,515 960,540 940,560 915,585 885,570 865,550"/>
<polygon fill="#ffffff" points="955,655 965,655 965,668 955,668"/>
<polygon fill="#ffffff" points="770,715 790,700 810,720 800,740 775,738"/>
<polygon fill="#48b715" points="700,485 714,485 714,498 700,498"/>
<polygon fill="#48b715" points="705,670 735,670 735,690 720,700 705,690"/>
<polygon fill="#48b715" points="875,790 890,790 895,830 880,840"/>
</g>
<g transform="translate(400 690) scale(0.187617)">
<polygon fill="#e0ffff" points="-5,-5 1071,-5 1071,1071 -5,1071"/>
<polygon fill="#66f866" points="-5,345 60,355 75,320 100,300 150,305 175,285 175,250 200,230 175,215 200,155 265,150 300,115 290,95 285,35 300,20 315,50 350,40 385,20 385,40 360,60 395,85 420,95 405,110 375,110 390,130 365,135 410,160 385,185 375,225 360,235 360,265 330,270 270,290 250,320 215,320 205,290 185,275 180,330 150,365 150,385 230,375 265,365 295,385 300,405 265,430 275,470 300,530 340,575 355,600 345,680 340,790 380,810 425,835 490,840 520,860 600,870 655,930 655,1071 -5,1071"/>
<polygon fill="#ffffff" points="160,430 185,410 215,425 215,470 160,470"/>
<polygon fill="#ffffff" points="175,535 205,510 240,515 270,540 250,560 220,585 195,575"/>
<polygon fill="#ffffff" points="258,655 272,655 272,670 258,670"/>
<polygon fill="#ffffff" points="75,715 100,700 120,720 110,740 80,740"/>
<polygon fill="#48b715" points="10,485 22,485 22,497 10,497"/>
<polygon fill="#48b715" points="10,670 45,670 45,690 28,700 10,690"/>
<polygon fill="#48b715" points="182,790 198,790 200,830 185,840"/>
<polygon fill="#ffe100" points="-5,120 30,85 100,55 140,55 170,90 165,130 155,185 130,195 80,210 40,190 -5,160"/>
<polygon fill="#ffe100" points="205,10 235,10 235,40 225,70 205,70"/>
<polygon fill="#ffe100" points="480,135 515,150 540,135 565,150 545,180 565,200 570,280 595,290 600,320 630,330 660,350 660,440 715,445 715,720 770,725 770,745 725,800 720,840 670,840 660,860 620,855 610,835 560,825 495,810 430,810 390,785 390,745 410,715 410,640 440,610 440,585 395,560 375,510 395,490 385,440 355,405 345,330 375,320 405,270 430,200 470,160"/>
<polygon fill="#ffaa00" points="520,410 540,408 565,435 565,460 540,455 510,435"/>
<polygon fill="#ffe100" points="500,50 545,10 555,10 548,40 565,60 560,95 545,95 540,70 520,65"/>
<polygon fill="#ffe100" points="595,90 630,85 650,105 640,125 595,120"/>
<polygon fill="#ffe100" points="770,885 780,885 780,895 770,895"/>
<polygon fill="#66f866" points="715,35 770,30 770,110 740,110 735,75 715,55"/>
<polygon fill="#66f866" points="695,90 712,90 712,150 695,150"/>
<polygon fill="#66f866" points="640,175 690,160 720,165 715,220 660,225 655,245 630,215 630,195"/>
<polygon fill="#66f866" points="-5,-5 60,-5 20,30 -5,50"/>
<polygon fill="#66f866" points="90,-5 135,-5 135,8 90,8"/>
</g>
<g transform="translate(360 110) scale(0.187617)">
<polygon fill="#ffffff" points="615,228 690,228 690,275 705,315 718,345 700,352 660,352 660,320 630,300 630,250"/>
<polygon fill="#ffffff" points="665,375 715,375 722,440 722,500 735,560 745,600 720,590 685,590 685,510 715,505 712,450 665,450"/>
<polygon fill="#48b715" points="636,237 645,237 645,295 636,295"/>
<polygon fill="#48b715" points="689,405 698,405 698,490 689,490"/>
<polygon fill="#48b715" points="689,515 698,515 698,585 689,585"/>
<polygon fill="#ffffff" points="205,250 230,250 230,285 205,285"/>
<polygon fill="#ffffff" points="250,265 295,265 295,305 270,305 270,290 250,290"/>
<polygon fill="#ffffff" points="283,580 318,580 318,600 335,600 335,622 283,622"/>
<polygon fill="#ffffff" points="343,237 358,237 358,250 343,250"/>
<polygon fill="#ffffff" points="832,690 868,690 855,735 832,735"/>
</g>
<g transform="translate(170 130) scale(0.187617)">
<polygon fill="#ffffff" points="348,255 375,255 400,275 405,300 400,335 385,345 348,345"/>
<polygon fill="#ffffff" points="232,362 290,362 285,385 240,400 232,405"/>
</g>
<polyline points="587.2,659.5 593.8,650.1 601.3,640.7 608.8,631.3 618.2,620.1 627.6,610.7 638.8,601.3 650.1,591.9 661.3,584.4 670.7,578.8 682.0,573.2 691.4,563.8 702.6,550.7 713.9,539.4 723.2,528.1 730.0,518.8 736.9,508.9 742.6,499.5 747.3,493.8 748.2,488.2 752.0,478.8 759.5,467.6 763.2,458.2 764.1,454.4 770.7,446.9 774.5,437.6 780.1,430.1 784.8,424.4 785.7,418.8 786.7,409.4 789.5,401.9 791.4,400.0 792.3,396.3 791.4,385.0 793.2,380.3 795.1,371.9 791.4,370.0 784.8,368.1 780.1,369.1 777.3,373.8 770.7,376.6 761.3,379.4 752.0,382.2 742.6,383.2 731.3,384.1 721.9,386.9 715.4,386.0 708.8,385.0 705.0,388.8 697.5,393.5 690.0,396.3 684.4,394.4 677.8,392.5 670.3,395.3 662.8,399.1 654.4,401.9 645.0,401.0" fill="none" stroke="#fff" stroke-width="3.4" stroke-linejoin="round"/>
</g>
<g transform="translate(520 580) scale(0.112570)">
<polygon fill="#000" points="445,755 470,770 490,750 500,770 545,750 540,780 500,810 490,830 460,830 430,825 455,800"/>
</g>
<g transform="translate(400 690) scale(0.187617)">
<polygon fill="none" stroke="#000" stroke-width="5" points="778,205 795,198 810,205 808,240 795,270 778,272 770,255 778,230"/>
<polygon fill="none" stroke="#000" stroke-width="5" points="735,300 750,305 760,340 775,360 770,385 750,380 730,355 725,325"/>
<polygon fill="#222" stroke="#000" stroke-width="3" points="780,548 800,522 815,520 810,545 795,565"/>
<circle cx="768" cy="618" r="4" fill="#000"/>
<circle cx="812" cy="433" r="3" fill="#333"/>
<circle cx="785" cy="520" r="2.5" fill="#555"/>
<circle cx="772" cy="592" r="2.5" fill="#555"/>
</g>
<g transform="translate(490 200) scale(0.093809)">
<g fill="#000"><circle cx="165" cy="145" r="5"/><circle cx="190" cy="172" r="7"/><circle cx="232" cy="157" r="5"/><circle cx="275" cy="150" r="6"/><circle cx="275" cy="185" r="7"/><circle cx="295" cy="212" r="7"/><circle cx="178" cy="225" r="6"/><circle cx="232" cy="245" r="9"/><circle cx="268" cy="240" r="9"/><circle cx="340" cy="255" r="8"/><circle cx="285" cy="285" r="8"/><circle cx="335" cy="322" r="10"/><circle cx="372" cy="222" r="6"/><circle cx="390" cy="235" r="6"/><circle cx="408" cy="240" r="5"/><circle cx="400" cy="345" r="6"/><circle cx="530" cy="745" r="6"/><circle cx="585" cy="800" r="9"/><circle cx="720" cy="765" r="9"/><circle cx="700" cy="775" r="7"/><circle cx="560" cy="850" r="8"/><circle cx="580" cy="880" r="9"/><circle cx="600" cy="900" r="9"/><circle cx="830" cy="1020" r="7"/><circle cx="640" cy="930" r="6"/><circle cx="610" cy="770" r="4"/><circle cx="570" cy="770" r="3"/></g>
<polygon fill="#000" points="375,300 400,295 430,283 415,305 420,320 400,330 395,310"/>
<polygon fill="#000" points="250,350 290,345 350,385 370,420 345,410 300,385 255,370"/>
<g fill="#000"><circle cx="657" cy="801" r="8.3"/><circle cx="670" cy="776" r="7.5"/><circle cx="687" cy="983" r="5.6"/><circle cx="647" cy="799" r="5.6"/><circle cx="752" cy="861" r="7.7"/><circle cx="688" cy="845" r="7.9"/><circle cx="696" cy="841" r="9.0"/><circle cx="732" cy="902" r="9.4"/><circle cx="685" cy="964" r="5.8"/><circle cx="760" cy="966" r="7.9"/><circle cx="769" cy="920" r="7.9"/><circle cx="697" cy="987" r="9.7"/><circle cx="702" cy="939" r="5.3"/><circle cx="770" cy="935" r="10.0"/><circle cx="676" cy="941" r="5.1"/><circle cx="699" cy="805" r="5.6"/><circle cx="677" cy="995" r="5.4"/><circle cx="695" cy="908" r="9.4"/><circle cx="806" cy="993" r="6.4"/><circle cx="685" cy="857" r="9.4"/><circle cx="613" cy="823" r="6.2"/><circle cx="705" cy="919" r="6.3"/><circle cx="671" cy="913" r="9.8"/><circle cx="767" cy="899" r="8.1"/><circle cx="678" cy="868" r="5.5"/><circle cx="750" cy="777" r="5.3"/><circle cx="623" cy="804" r="6.7"/><circle cx="664" cy="858" r="5.6"/><circle cx="700" cy="891" r="5.4"/><circle cx="670" cy="805" r="8.9"/><circle cx="720" cy="970" r="6.6"/><circle cx="802" cy="981" r="8.7"/><circle cx="626" cy="821" r="6.0"/><circle cx="704" cy="936" r="9.0"/><circle cx="665" cy="908" r="5.7"/><circle cx="755" cy="902" r="9.7"/><circle cx="690" cy="995" r="9.1"/><circle cx="623" cy="828" r="6.5"/><circle cx="638" cy="873" r="5.7"/><circle cx="697" cy="918" r="9.5"/><circle cx="686" cy="1008" r="7.5"/><circle cx="720" cy="901" r="5.1"/><circle cx="692" cy="809" r="5.0"/><circle cx="702" cy="956" r="7.8"/><circle cx="658" cy="900" r="7.8"/><circle cx="728" cy="827" r="6.4"/><circle cx="729" cy="965" r="9.6"/><circle cx="693" cy="925" r="7.5"/><circle cx="714" cy="947" r="7.3"/><circle cx="720" cy="889" r="9.7"/><circle cx="770" cy="997" r="9.7"/><circle cx="638" cy="911" r="9.7"/><circle cx="795" cy="1002" r="5.8"/><circle cx="775" cy="938" r="5.7"/><circle cx="679" cy="892" r="9.9"/><circle cx="689" cy="899" r="6.7"/><circle cx="726" cy="879" r="5.1"/><circle cx="659" cy="928" r="7.6"/><circle cx="641" cy="795" r="7.1"/><circle cx="638" cy="800" r="9.6"/><circle cx="731" cy="949" r="5.4"/><circle cx="688" cy="780" r="9.7"/><circle cx="750" cy="976" r="5.4"/><circle cx="662" cy="909" r="9.6"/><circle cx="640" cy="795" r="7.6"/><circle cx="632" cy="790" r="5.8"/><circle cx="654" cy="842" r="8.8"/><circle cx="647" cy="895" r="5.9"/><circle cx="780" cy="909" r="5.9"/><circle cx="702" cy="1012" r="5.5"/><circle cx="709" cy="985" r="7.0"/><circle cx="712" cy="946" r="9.9"/><circle cx="772" cy="932" r="7.0"/><circle cx="812" cy="995" r="8.4"/><circle cx="645" cy="825" r="6.5"/><circle cx="698" cy="803" r="7.2"/><circle cx="653" cy="856" r="5.0"/><circle cx="674" cy="888" r="7.5"/><circle cx="651" cy="823" r="7.9"/><circle cx="719" cy="963" r="8.3"/><circle cx="775" cy="997" r="6.9"/><circle cx="811" cy="1001" r="8.1"/><circle cx="780" cy="979" r="5.7"/><circle cx="717" cy="896" r="9.2"/><circle cx="801" cy="983" r="7.9"/><circle cx="668" cy="788" r="9.2"/><circle cx="728" cy="929" r="8.1"/><circle cx="764" cy="892" r="5.0"/><circle cx="711" cy="905" r="8.3"/><circle cx="636" cy="780" r="6.3"/><circle cx="782" cy="1023" r="7.5"/><circle cx="675" cy="889" r="8.4"/><circle cx="790" cy="927" r="8.2"/><circle cx="651" cy="913" r="5.1"/><circle cx="762" cy="947" r="8.4"/><circle cx="647" cy="899" r="7.3"/><circle cx="700" cy="792" r="9.5"/><circle cx="698" cy="981" r="9.8"/><circle cx="695" cy="833" r="6.0"/><circle cx="734" cy="798" r="7.6"/><circle cx="695" cy="842" r="5.7"/><circle cx="663" cy="845" r="9.2"/><circle cx="672" cy="866" r="10.0"/><circle cx="737" cy="857" r="7.1"/><circle cx="635" cy="832" r="7.6"/><circle cx="804" cy="930" r="9.6"/><circle cx="786" cy="934" r="6.4"/><circle cx="663" cy="840" r="8.7"/><circle cx="757" cy="841" r="7.8"/><circle cx="678" cy="805" r="5.8"/><circle cx="709" cy="806" r="5.7"/><circle cx="573" cy="798" r="3.3"/><circle cx="650" cy="767" r="3.7"/><circle cx="618" cy="911" r="5.7"/><circle cx="805" cy="864" r="4.2"/><circle cx="719" cy="853" r="4.0"/><circle cx="711" cy="929" r="5.6"/><circle cx="602" cy="821" r="3.7"/><circle cx="672" cy="874" r="5.9"/><circle cx="842" cy="1002" r="3.1"/><circle cx="743" cy="740" r="4.2"/><circle cx="845" cy="1032" r="3.7"/><circle cx="718" cy="945" r="5.8"/><circle cx="794" cy="934" r="5.3"/><circle cx="694" cy="905" r="3.1"/><circle cx="635" cy="778" r="3.8"/><circle cx="762" cy="950" r="3.3"/><circle cx="741" cy="856" r="3.7"/><circle cx="748" cy="743" r="3.9"/><circle cx="695" cy="1028" r="4.9"/><circle cx="609" cy="814" r="5.9"/><circle cx="788" cy="832" r="3.1"/><circle cx="709" cy="942" r="4.3"/><circle cx="618" cy="940" r="5.8"/><circle cx="606" cy="750" r="4.0"/><circle cx="680" cy="945" r="3.6"/><circle cx="823" cy="962" r="4.5"/><circle cx="638" cy="986" r="3.7"/><circle cx="708" cy="796" r="3.7"/><circle cx="678" cy="940" r="5.8"/><circle cx="798" cy="1039" r="5.8"/><circle cx="645" cy="796" r="5.8"/><circle cx="772" cy="854" r="4.1"/><circle cx="646" cy="791" r="3.0"/><circle cx="626" cy="845" r="5.9"/><circle cx="599" cy="847" r="5.5"/><circle cx="662" cy="1016" r="3.6"/><circle cx="658" cy="1009" r="3.1"/><circle cx="676" cy="984" r="5.3"/><circle cx="618" cy="964" r="5.7"/></g>
<path fill="none" stroke="#000" stroke-width="6" d="M790,910 L830,900 L860,935 L875,985 L890,995 L860,1000 L845,960 L820,940 L800,960 L790,990 M630,1000 L660,990 L700,1010 L720,1040 L750,1055 M620,1020 L640,1045"/>
</g>
<g transform="translate(360 110) scale(0.187617)">
<path d="M52,234 L58,218 L70,214 L57,234 Z" fill="#222"/><path d="M95,192 L108,180 L122,166 L150,150 M104,184 L112,196" fill="none" stroke="#999" stroke-width="2.5"/>
</g>
<g fill="none" stroke="#000" stroke-width="1.2" stroke-linejoin="round" stroke-linecap="round">
<polygon points="234.4,154.5 234.4,197.0 213.2,197.0 213.2,289.2 209.4,288.3 204.7,287.5 200.0,289.4 194.9,288.6 189.7,292.7 192.1,295.9 191.1,300.6 186.9,303.9 184.6,307.7 186.0,310.5 179.4,312.4 178.5,313.8 179.9,316.6 179.9,319.9 183.2,321.3 181.7,323.2 176.1,326.0 172.4,330.2 173.8,333.5 175.6,335.3 176.6,339.1 173.3,343.3 169.1,345.2 166.7,350.4 168.1,354.1 171.0,354.6 175.2,352.2 180.3,355.0 178.5,358.3 180.8,364.9 180.3,367.7 184.1,367.2 182.2,374.7 184.1,377.6 188.8,380.0 188.8,380.7 191.0,383.5 188.8,391.0 198.1,401.3 205.6,413.5 205.6,422.9 201.9,429.5 203.8,437.9 217.8,438.8 216.9,445.4 230.0,449.2 240.4,457.6 238.5,464.2 255.4,473.5 263.8,482.0 261.9,487.6 267.6,494.2 277.9,500.0 278.4,500.0 282.2,503.8 283.1,509.4 287.8,515.9 292.5,520.6 296.3,525.3 301.0,528.1 306.6,531.9 313.2,527.2 319.7,528.1 325.3,530.0 331.0,524.4 335.7,527.2 336.6,531.0 342.2,534.7 345.0,539.4 352.6,543.2 353.5,546.0 360.1,546.9 358.2,556.3 359.1,563.8 357.2,571.3 361.9,574.1 367.6,576.9 367.6,580.7 361.9,587.2 356.3,592.9 351.6,597.6 346.9,599.4 345.0,606.0 341.3,607.9 339.4,614.4 335.7,622.0 334.7,631.3 332.9,642.6 332.9,652.0 326.3,657.6 322.5,665.1 323.5,670.7 317.8,676.4 319.2,681.1 322.2,680.5 322.5,687.6 325.3,695.1 325.3,700.0 325.3,690.0 324.4,699.4 326.3,710.6 328.5,719.1 326.3,725.6 329.1,733.2 332.9,742.5 331.9,753.8 334.7,761.3 340.4,766.9 345.0,770.7 349.7,780.1 354.4,789.4 359.1,799.8 363.8,807.3 371.3,808.2 376.0,813.8 382.6,815.7 384.4,817.6 393.8,820.4 401.3,824.1 408.8,826.0 415.4,828.8 422.0,828.8 425.7,830.7 425.7,827.0 433.2,834.5 437.9,840.1 438.9,849.5 440.7,857.0 445.4,866.4 448.2,870.1 460.4,871.1 465.1,868.2 473.2,873.9 482.6,874.8 488.2,871.1 493.8,872.0 500.4,874.8 506.9,871.1 509.8,866.4 516.3,865.4 522.9,867.3 531.3,862.6 538.8,861.7 546.3,857.0 555.7,853.2 562.9,848.5 563.2,844.8 555.7,842.0 548.2,838.2 550.1,834.5 547.3,827.0 545.4,817.6 540.7,810.1 539.8,800.7 541.7,794.1 539.8,787.6 542.6,781.9 544.5,774.4 538.8,768.8 533.2,763.2 529.5,755.7 530.4,746.3 534.1,735.0 537.9,723.8 544.5,716.3 550.1,705.0 555.7,695.6 558.5,690.0 554.4,695.1 558.1,689.5 558.1,684.8 561.0,680.1 567.5,677.3 575.0,671.7 579.7,668.9 584.4,665.1 587.2,659.5 593.8,650.1 601.3,640.7 608.8,631.3 618.2,620.1 627.6,610.7 638.8,601.3 650.1,591.9 661.3,584.4 670.7,578.8 682.0,573.2 691.4,563.8 702.6,550.7 713.9,539.4 723.2,528.1 730.0,518.8 736.9,508.9 742.6,499.5 747.3,493.8 748.2,488.2 752.0,478.8 759.5,467.6 763.2,458.2 764.1,454.4 770.7,446.9 774.5,437.6 780.1,430.1 784.8,424.4 785.7,418.8 786.7,409.4 789.5,401.9 796.0,402.9 797.0,401.0 791.4,400.0 792.3,396.3 791.4,385.0 793.2,380.3 795.1,371.9 791.4,370.0 784.8,368.1 780.1,369.1 777.3,373.8 770.7,376.6 761.3,379.4 752.0,382.2 742.6,383.2 731.3,384.1 721.9,386.9 715.4,386.0 708.8,385.0 705.0,388.8 697.5,393.5 690.0,396.3 684.4,394.4 677.8,392.5 670.3,395.3 662.8,399.1 654.4,401.9 645.0,401.0 640.1,397.0 633.5,389.5 628.9,382.0 623.2,378.2 610.1,377.3 621.4,370.7 627.0,365.1 626.0,359.5 619.5,352.0 615.7,347.3 608.2,342.6 604.5,336.9 598.8,329.4 589.5,323.8 582.0,314.4 572.6,307.9 561.3,301.3 553.8,295.7 550.1,301.3 547.2,295.7 540.7,286.3 536.9,273.2 534.1,260.0 529.4,246.9 522.9,238.4 515.7,233.8 508.2,228.2 499.8,222.6 497.9,215.1 495.5,203.8 495.1,192.6 496.0,182.2 494.1,175.7 497.0,174.7 491.3,168.2 488.5,160.7 488.1,153.5 478.2,145.6 473.5,141.0 466.9,139.1 462.3,135.3 460.9,130.3 451.9,138.1 446.9,136.3 441.1,147.9 429.4,150.3 425.7,159.2 416.3,159.7 408.8,154.5 360.0,154.5"/>
<polyline points="217.8,438.8 225.3,432.3 226.3,424.8 230.0,415.4 234.7,408.8 236.0,403.8 253.5,401.3 254.4,406.9 260.1,413.5 262.9,419.1 271.3,421.6 278.8,418.6 295.7,419.1 299.5,424.4 314.1,424.4 321.0,416.7 331.0,416.3 331.0,408.8 340.4,404.1 354.8,412.6 359.1,416.7 359.1,416.7 369.4,415.9 384.4,396.6 393.8,389.1 391.9,386.3 391.9,370.3 387.2,370.0 399.4,370.0 399.8,363.8 411.1,363.8 408.8,376.9 411.6,394.7 418.2,400.4 425.7,407.9 426.6,414.4 424.7,421.0 428.5,421.4"/>
<polyline points="428.5,421.4 433.2,398.5 438.8,391.9 443.5,394.7 447.3,390.0 447.3,384.4 449.1,380.7 449.1,374.1 454.8,365.6 462.3,354.4 472.6,352.5 473.5,345.0 474.1,342.6 479.7,325.7 479.7,319.1"/>
<polyline points="479.7,319.1 478.8,301.3 489.1,275.0 488.1,270.3 490.0,267.5 491.0,260.0 499.4,259.1 500.3,254.4 507.8,251.0 519.1,247.8 522.9,241.3 522.9,238.4"/>
<polyline points="479.7,319.1 493.8,316.3 497.5,318.2 500.3,321.0 509.7,306.0 514.4,309.7 518.2,313.5 523.8,316.3 532.2,314.4 535.0,311.6 538.8,314.4 553.8,316.3 557.6,313.5 565.1,317.2 576.3,327.6 587.6,338.8 597.0,348.2 606.3,357.6"/>
<polyline points="606.3,357.6 612.0,359.5 619.5,352.9"/>
<polyline points="606.3,357.6 592.3,375.4 593.2,389.5 599.8,390.4 610.1,388.5 615.7,390.4"/>
<polyline points="615.7,390.4 623.2,378.2"/>
<polyline points="615.7,390.4 612.0,397.9 619.5,408.2 627.0,419.5 630.0,424.4 637.5,431.0 703.2,453.5 723.8,453.1 661.0,519.2 640.7,518.2 629.4,519.7 620.1,524.4 612.6,532.8 595.7,535.6" stroke-width="1.3"/>
<polyline points="595.7,535.6 575.0,563.8 576.0,641.7 587.2,657.6" stroke-width="1.3"/>
<polyline points="428.5,421.4 429.4,440.7 423.8,443.5 418.2,444.4 409.7,444.4 408.8,450.1 405.0,454.8 406.0,457.6 414.4,458.5 421.9,462.3 426.6,465.1 428.5,470.7 435.1,476.3 440.7,480.1 445.4,483.8 448.2,487.6 448.2,495.1 451.0,501.7 454.8,507.3" stroke-width="1.3"/>
<polyline points="454.8,507.3 464.1,508.2 466.0,512.0 466.0,521.4 469.8,527.0 488.1,529.1 514.4,546.3 535.0,549.2 543.5,552.9 551.9,541.7 570.7,533.2 578.2,539.8 578.8,540.3 593.8,539.8 595.7,535.6" stroke-width="1.4"/>
<polyline points="454.8,507.3 427.6,533.8"/>
<polyline points="435.1,526.1 466.0,525.5"/>
<polyline points="360.1,546.9 361.9,545.0 367.6,543.2 375.1,545.0 380.7,543.2 382.6,546.0 390.1,545.0 405.1,542.2 416.3,543.2 423.8,535.6 427.6,533.8"/>
<polyline points="427.6,533.8 429.5,540.3 435.1,546.9 437.9,555.3 443.5,564.7 446.4,574.1 447.3,584.4 444.5,593.8 439.8,598.5 435.1,605.1 429.5,612.6 425.7,622.0 425.7,645.0" stroke-width="1.7"/>
<polyline points="357.2,645.0 425.7,645.0"/>
<polyline points="425.7,645.0 470.0,669.8 504.1,690.0 502.8,697.5 506.9,701.3 537.9,722.8" stroke-width="1.3"/>
<polyline points="332.9,652.0 339.4,654.8 348.8,648.2 352.6,646.3 357.2,645.0"/>
<polyline points="357.2,645.0 353.5,650.1 358.2,659.5 360.1,668.9 357.2,673.5"/>
<polyline points="322.2,680.5 326.3,682.0 332.9,684.8 339.4,682.9 340.4,675.4 346.9,673.5 351.6,675.4 357.2,673.5"/>
<polyline points="357.2,673.5 351.6,676.4 350.7,684.8 357.2,686.7 358.2,693.2 354.4,695.6 350.7,701.3 345.0,710.6 339.4,716.3 334.7,719.1 328.5,719.1"/>
<polyline points="562.9,848.5 563.2,844.8 555.7,842.0 548.2,838.2 550.1,834.5 547.3,827.0 545.4,817.6 540.7,810.1 539.8,800.7 541.7,794.1 539.8,787.6 542.6,781.9 544.5,774.4 538.8,768.8 533.2,763.2 529.5,755.7 530.4,746.3 534.1,735.0 537.9,723.8 544.5,716.3 550.1,705.0 555.7,695.6 558.5,690.0 554.4,695.1 558.1,689.5 558.1,684.8 561.0,680.1 567.5,677.3 575.0,671.7 579.7,668.9 584.4,665.1 587.2,659.5 593.8,650.1 601.3,640.7 608.8,631.3 618.2,620.1 627.6,610.7 638.8,601.3 650.1,591.9 661.3,584.4 670.7,578.8 682.0,573.2 691.4,563.8 702.6,550.7 713.9,539.4 723.2,528.1 730.0,518.8 736.9,508.9 742.6,499.5 747.3,493.8 748.2,488.2 752.0,478.8 759.5,467.6 763.2,458.2 764.1,454.4 770.7,446.9 774.5,437.6 780.1,430.1 784.8,424.4 785.7,418.8 786.7,409.4 789.5,401.9 796.0,402.9 797.0,401.0 791.4,400.0 792.3,396.3 791.4,385.0 793.2,380.3 795.1,371.9 791.4,370.0 784.8,368.1 780.1,369.1 777.3,373.8 770.7,376.6 761.3,379.4 752.0,382.2 742.6,383.2 731.3,384.1 721.9,386.9 715.4,386.0 708.8,385.0 705.0,388.8 697.5,393.5 690.0,396.3 684.4,394.4 677.8,392.5 670.3,395.3 662.8,399.1 654.4,401.9 645.0,401.0 640.1,397.0 633.5,389.5 628.9,382.0 623.2,378.2 610.1,377.3 621.4,370.7 627.0,365.1 626.0,359.5 619.5,352.0 615.7,347.3 608.2,342.6 604.5,336.9 598.8,329.4 589.5,323.8 582.0,314.4 572.6,307.9 561.3,301.3 553.8,295.7 550.1,301.3 547.2,295.7 540.7,286.3 536.9,273.2 534.1,260.0 529.4,246.9 522.9,238.4 515.7,233.8 508.2,228.2 499.8,222.6 497.9,215.1 495.5,203.8 495.1,192.6 496.0,182.2 494.1,175.7 497.0,174.7 491.3,168.2 488.5,160.7 488.1,153.5 478.2,145.6 473.5,141.0 466.9,139.1 462.3,135.3 460.9,130.3" stroke-width="1.4"/>
</g>
<g id="logo">
<circle cx="761.7" cy="163.3" r="55.2" fill="#fff" stroke="#3f9c72" stroke-width="0.5"/>
<circle cx="761.7" cy="163.3" r="53.2" fill="none" stroke="#6fb594" stroke-width="0.4"/>
<circle cx="761.7" cy="163.3" r="44.2" fill="none" stroke="#3f9c72" stroke-width="0.5"/>
<circle cx="761.7" cy="163.3" r="42.6" fill="none" stroke="#6fb594" stroke-width="0.4"/>
<path id="tp1" d="M715.55 158.45 A46.4 46.4 0 0 1 807.85 158.45" fill="none"/>
<text font-size="4.9" font-weight="bold" style="fill:#0d8a4f" textLength="136.1" lengthAdjust="spacingAndGlyphs"><textPath href="#tp1" textLength="136.1" lengthAdjust="spacingAndGlyphs">INTERGOVERNMENTAL AUTHORITY ON DEVELOPMENT</textPath></text>
<path id="tp2" d="M711.33 171.28 A51 51 0 0 0 812.07 171.28" fill="none"/>
<text font-size="4.6" font-weight="bold" style="fill:#0d8a4f"><textPath href="#tp2" textLength="144.2" lengthAdjust="spacingAndGlyphs">AUTORITE INTERGOUVERNEMENTALE POUR LE DEVELOPPEMENT</textPath></text>
<polygon points="711.90,161.60 712.62,163.51 714.66,163.60 713.06,164.88 713.60,166.85 711.90,165.72 710.20,166.85 710.74,164.88 709.14,163.60 711.18,163.51" fill="#0d8a4f"/>
<polygon points="810.90,161.60 811.62,163.51 813.66,163.60 812.06,164.88 812.60,166.85 810.90,165.72 809.20,166.85 809.74,164.88 808.14,163.60 810.18,163.51" fill="#0d8a4f"/>
<text x="742.2" y="141.4" font-size="18.2" font-weight="bold" textLength="40.6" lengthAdjust="spacingAndGlyphs" style="fill:#0d8a4f">IGAD</text>
<text x="737.2" y="235.6" font-size="17.2" font-weight="bold" textLength="49.6" lengthAdjust="spacingAndGlyphs" style="fill:#0d8a4f">ICPAC</text>
<g transform="translate(690 100) scale(0.14057)">
<polygon fill="#0d8a4f" points="385,345 440,330 470,335 500,350 540,345 580,350 600,385 560,395 540,420 545,455 575,480 580,500 610,510 625,545 620,580 590,600 575,635 545,645 525,640 510,600 515,560 500,530 505,495 480,490 445,490 400,470 375,440 370,400"/>
<polygon fill="#eaa93c" points="560,392 600,385 625,430 670,440 650,470 620,500 605,510 580,498 573,478 545,455 538,420"/>
<polygon fill="#0d8a4f" points="645,565 660,550 662,585 647,600"/>
<rect x="355" y="341" width="85" height="9" fill="#0d8a4f"/>
<rect x="335" y="374" width="45" height="9" fill="#eaa93c"/>
<rect x="380" y="374" width="40" height="9" fill="#0d8a4f"/>
<rect x="315" y="401" width="95" height="9" fill="#0d8a4f"/>
<rect x="315" y="431" width="70" height="9" fill="#eaa93c"/>
<rect x="345" y="458" width="55" height="9" fill="#0d8a4f"/>
<rect x="440" y="491" width="60" height="9" fill="#eaa93c"/>
<rect x="460" y="518" width="70" height="9" fill="#0d8a4f"/>
<rect x="455" y="546" width="45" height="9" fill="#eaa93c"/>
<rect x="465" y="576" width="80" height="9" fill="#0d8a4f"/>
<rect x="485" y="606" width="30" height="9" fill="#eaa93c"/>
<rect x="495" y="631" width="60" height="9" fill="#0d8a4f"/>
<ellipse cx="269.2" cy="311.0" rx="29.0" ry="9.5" transform="rotate(270.0 269.2 311.0)" fill="#0d8a4f"/>
<ellipse cx="297.0" cy="327.0" rx="29.0" ry="9.5" transform="rotate(330.0 297.0 327.0)" fill="#0d8a4f"/>
<ellipse cx="244.0" cy="369.3" rx="29.0" ry="9.5" transform="rotate(256.9 244.0 369.3)" fill="#0d8a4f"/>
<ellipse cx="274.6" cy="378.6" rx="29.0" ry="9.5" transform="rotate(316.9 274.6 378.6)" fill="#0d8a4f"/>
<ellipse cx="232.6" cy="431.8" rx="29.0" ry="9.5" transform="rotate(243.8 232.6 431.8)" fill="#0d8a4f"/>
<ellipse cx="264.5" cy="433.9" rx="29.0" ry="9.5" transform="rotate(303.8 264.5 433.9)" fill="#0d8a4f"/>
<ellipse cx="235.7" cy="495.3" rx="29.0" ry="9.5" transform="rotate(230.6 235.7 495.3)" fill="#0d8a4f"/>
<ellipse cx="267.3" cy="490.1" rx="29.0" ry="9.5" transform="rotate(290.6 267.3 490.1)" fill="#0d8a4f"/>
<ellipse cx="253.2" cy="556.4" rx="29.0" ry="9.5" transform="rotate(217.5 253.2 556.4)" fill="#0d8a4f"/>
<ellipse cx="282.7" cy="544.1" rx="29.0" ry="9.5" transform="rotate(277.5 282.7 544.1)" fill="#0d8a4f"/>
<ellipse cx="284.0" cy="611.9" rx="29.0" ry="9.5" transform="rotate(204.4 284.0 611.9)" fill="#0d8a4f"/>
<ellipse cx="310.0" cy="593.3" rx="29.0" ry="9.5" transform="rotate(264.4 310.0 593.3)" fill="#0d8a4f"/>
<ellipse cx="326.7" cy="659.0" rx="29.0" ry="9.5" transform="rotate(191.2 326.7 659.0)" fill="#0d8a4f"/>
<ellipse cx="347.8" cy="635.0" rx="29.0" ry="9.5" transform="rotate(251.2 347.8 635.0)" fill="#0d8a4f"/>
<ellipse cx="379.0" cy="695.2" rx="29.0" ry="9.5" transform="rotate(178.1 379.0 695.2)" fill="#0d8a4f"/>
<ellipse cx="394.0" cy="667.0" rx="29.0" ry="9.5" transform="rotate(238.1 394.0 667.0)" fill="#0d8a4f"/>
<ellipse cx="438.0" cy="718.5" rx="29.0" ry="9.5" transform="rotate(165.0 438.0 718.5)" fill="#0d8a4f"/>
<ellipse cx="446.3" cy="687.6" rx="29.0" ry="9.5" transform="rotate(225.0 446.3 687.6)" fill="#0d8a4f"/>
<ellipse cx="750.8" cy="311.0" rx="29.0" ry="9.5" transform="rotate(-90.0 750.8 311.0)" fill="#0d8a4f"/>
<ellipse cx="723.0" cy="327.0" rx="29.0" ry="9.5" transform="rotate(-150.0 723.0 327.0)" fill="#0d8a4f"/>
<ellipse cx="776.0" cy="369.3" rx="29.0" ry="9.5" transform="rotate(-76.9 776.0 369.3)" fill="#0d8a4f"/>
<ellipse cx="745.4" cy="378.6" rx="29.0" ry="9.5" transform="rotate(-136.9 745.4 378.6)" fill="#0d8a4f"/>
<ellipse cx="787.4" cy="431.8" rx="29.0" ry="9.5" transform="rotate(-63.8 787.4 431.8)" fill="#0d8a4f"/>
<ellipse cx="755.5" cy="433.9" rx="29.0" ry="9.5" transform="rotate(-123.8 755.5 433.9)" fill="#0d8a4f"/>
<ellipse cx="784.3" cy="495.3" rx="29.0" ry="9.5" transform="rotate(-50.6 784.3 495.3)" fill="#0d8a4f"/>
<ellipse cx="752.7" cy="490.1" rx="29.0" ry="9.5" transform="rotate(-110.6 752.7 490.1)" fill="#0d8a4f"/>
<ellipse cx="766.8" cy="556.4" rx="29.0" ry="9.5" transform="rotate(-37.5 766.8 556.4)" fill="#0d8a4f"/>
<ellipse cx="737.3" cy="544.1" rx="29.0" ry="9.5" transform="rotate(-97.5 737.3 544.1)" fill="#0d8a4f"/>
<ellipse cx="736.0" cy="611.9" rx="29.0" ry="9.5" transform="rotate(-24.4 736.0 611.9)" fill="#0d8a4f"/>
<ellipse cx="710.0" cy="593.3" rx="29.0" ry="9.5" transform="rotate(-84.4 710.0 593.3)" fill="#0d8a4f"/>
<ellipse cx="693.3" cy="659.0" rx="29.0" ry="9.5" transform="rotate(-11.2 693.3 659.0)" fill="#0d8a4f"/>
<ellipse cx="672.2" cy="635.0" rx="29.0" ry="9.5" transform="rotate(-71.2 672.2 635.0)" fill="#0d8a4f"/>
<ellipse cx="641.0" cy="695.2" rx="29.0" ry="9.5" transform="rotate(1.9 641.0 695.2)" fill="#0d8a4f"/>
<ellipse cx="626.0" cy="667.0" rx="29.0" ry="9.5" transform="rotate(-58.1 626.0 667.0)" fill="#0d8a4f"/>
<ellipse cx="582.0" cy="718.5" rx="29.0" ry="9.5" transform="rotate(15.0 582.0 718.5)" fill="#0d8a4f"/>
<ellipse cx="573.7" cy="687.6" rx="29.0" ry="9.5" transform="rotate(-45.0 573.7 687.6)" fill="#0d8a4f"/>
<path d="M455,690 Q510,700 562,730 M565,690 Q510,700 458,730" stroke="#0d8a4f" stroke-width="4" fill="none"/>
</g>
</g>
</g>
<!--FRAME-->
<g id="frame" stroke="#1a1a1a" stroke-width="1.25" fill="none">
<rect x="138.65" y="101.4" width="692.85" height="810.7"/>
<path d="M234.4 912.1v17.8M341 912.1v17.8M447.7 912.1v17.8M554.3 912.1v17.8M661 912.1v17.8M767.6 912.1v17.8"/>
<path d="M138.65 197.6h-17.8M138.65 304.2h-17.8M138.65 410.9h-17.8M138.65 517.5h-17.8M138.65 624.1h-17.8M138.65 730.8h-17.8M138.65 837.4h-17.8"/>
</g>
<g id="xlab" font-size="24.5" text-anchor="middle">
<text x="234.3" y="965.3">25°E</text><text x="340.9" y="965.3">30°E</text><text x="447.6" y="965.3">35°E</text><text x="554.2" y="965.3">40°E</text><text x="660.9" y="965.3">45°E</text><text x="767.5" y="965.3">50°E</text>
</g>
<g id="ylab" font-size="24.5" text-anchor="end">
<text x="106" y="205.8">20°N</text><text x="106" y="312.4">15°N</text><text x="106" y="419.1">10°N</text><text x="106" y="525.7">5°N</text><text x="106" y="632.6">0°</text><text x="106" y="739.3">5°S</text><text x="106" y="845.9">10°S</text>
</g>
<!--LEGENDS-->
<text x="893" y="348" font-size="2.4" style="fill:#999">colorbar_Tick_data</text>
<text x="893" y="624" font-size="2.4" style="fill:#999">colorbar_Tick_data</text>
<g class="lg">
<rect x="842.2" y="104.50" width="50.0" height="36.59" fill="#005000" stroke="#444" stroke-width="0.7"/>
<rect x="842.2" y="141.09" width="50.0" height="36.59" fill="#127f0a" stroke="#444" stroke-width="0.7"/>
<rect x="842.2" y="177.67" width="50.0" height="36.59" fill="#23960f" stroke="#444" stroke-width="0.7"/>
<rect x="842.2" y="214.26" width="50.0" height="36.59" fill="#35a812" stroke="#444" stroke-width="0.7"/>
<rect x="842.2" y="250.84" width="50.0" height="36.59" fill="#48b715" stroke="#444" stroke-width="0.7"/>
<rect x="842.2" y="287.43" width="50.0" height="36.59" fill="#66f866" stroke="#444" stroke-width="0.7"/>
<rect x="842.2" y="324.01" width="50.0" height="36.59" fill="#b8ffb8" stroke="#444" stroke-width="0.7"/>
<text x="907.2" y="151.6" font-size="30">90</text>
<text x="907.2" y="188.2" font-size="30">80</text>
<text x="907.2" y="224.8" font-size="30">70</text>
<text x="907.2" y="261.3" font-size="30">60</text>
<text x="907.2" y="297.9" font-size="30">50</text>
<text x="907.2" y="334.5" font-size="30">40</text>
<text transform="translate(968 205.7) rotate(-90)" font-size="29.1" text-anchor="middle">Above (%)</text>
</g>
<g class="lg">
<rect x="842.2" y="379.70" width="50.0" height="36.67" fill="#00ffff" stroke="#444" stroke-width="0.7"/>
<rect x="842.2" y="416.37" width="50.0" height="36.67" fill="#33fffa" stroke="#444" stroke-width="0.7"/>
<rect x="842.2" y="453.04" width="50.0" height="36.67" fill="#55fffa" stroke="#444" stroke-width="0.7"/>
<rect x="842.2" y="489.71" width="50.0" height="36.67" fill="#77fffa" stroke="#444" stroke-width="0.7"/>
<rect x="842.2" y="526.39" width="50.0" height="36.67" fill="#99fffa" stroke="#444" stroke-width="0.7"/>
<rect x="842.2" y="563.06" width="50.0" height="36.67" fill="#b2fffa" stroke="#444" stroke-width="0.7"/>
<rect x="842.2" y="599.73" width="50.0" height="36.67" fill="#e0ffff" stroke="#444" stroke-width="0.7"/>
<text x="907.2" y="426.9" font-size="30">90</text>
<text x="907.2" y="463.5" font-size="30">80</text>
<text x="907.2" y="500.2" font-size="30">70</text>
<text x="907.2" y="536.9" font-size="30">60</text>
<text x="907.2" y="573.6" font-size="30">50</text>
<text x="907.2" y="610.2" font-size="30">40</text>
<text transform="translate(968 480.9) rotate(-90)" font-size="29.1" text-anchor="middle">Normal (%)</text>
</g>
<g class="lg">
<rect x="842.2" y="655.30" width="50.0" height="36.69" fill="#ff0000" stroke="#444" stroke-width="0.7"/>
<rect x="842.2" y="691.99" width="50.0" height="36.69" fill="#ff3800" stroke="#444" stroke-width="0.7"/>
<rect x="842.2" y="728.67" width="50.0" height="36.69" fill="#ff6f00" stroke="#444" stroke-width="0.7"/>
<rect x="842.2" y="765.36" width="50.0" height="36.69" fill="#ff8c00" stroke="#444" stroke-width="0.7"/>
<rect x="842.2" y="802.04" width="50.0" height="36.69" fill="#ffaa00" stroke="#444" stroke-width="0.7"/>
<rect x="842.2" y="838.73" width="50.0" height="36.69" fill="#ffe600" stroke="#444" stroke-width="0.7"/>
<rect x="842.2" y="875.41" width="50.0" height="36.69" fill="#ffff80" stroke="#444" stroke-width="0.7"/>
<text x="907.2" y="702.5" font-size="30">90</text>
<text x="907.2" y="739.2" font-size="30">80</text>
<text x="907.2" y="775.9" font-size="30">70</text>
<text x="907.2" y="812.5" font-size="30">60</text>
<text x="907.2" y="849.2" font-size="30">50</text>
<text x="907.2" y="885.9" font-size="30">40</text>
<text transform="translate(968 756.5) rotate(-90)" font-size="29.1" text-anchor="middle">Below (%)</text>
</g>
</svg>
</body></html>
